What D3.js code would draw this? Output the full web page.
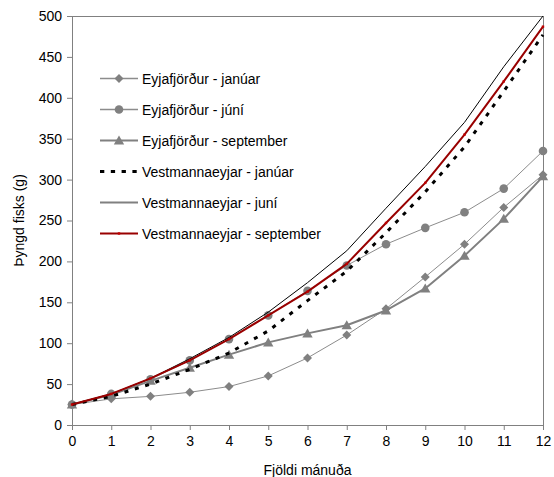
<!DOCTYPE html>
<html>
<head>
<meta charset="utf-8">
<script src="https://cdn.jsdelivr.net/npm/d3@7"></script>
<style>
  html, body { margin: 0; padding: 0; background: #fff; }
  svg text { font-family: "Liberation Sans", Arial, sans-serif; fill: #000; }
</style>
</head>
<body>
<svg id="chart" width="554" height="477"></svg>
<script>
// Fish weight (g) by month, per location and start month
const months = [0, 1, 2, 3, 4, 5, 6, 7, 8, 9, 10, 11, 12];
const eyjaJan = [25, 32, 35, 40, 47, 60, 82, 110, 142, 181, 221, 266, 306];
const eyjaJun = [25, 38, 56, 79, 105, 134, 164, 195, 221, 241, 260, 289, 335];
const eyjaSep = [25, 37, 54, 70, 86, 101, 112, 122, 140, 167, 207, 252, 304];
const vestJan = [25, 35, 50, 68, 88, 115, 152, 188, 235, 285, 340, 408, 477];
const vestJun = [25, 38, 57, 81, 107, 138, 174, 213, 265, 316, 370, 438, 500];
const vestSep = [25, 38, 57, 79, 105, 134, 163, 197, 247, 296, 355, 420, 487];

const yTicks = [0, 50, 100, 150, 200, 250, 300, 350, 400, 450, 500];
const seriesNames = [
  "Eyjafjörður - janúar",
  "Eyjafjörður - júní",
  "Eyjafjörður - september",
  "Vestmannaeyjar - janúar",
  "Vestmannaeyjar - juní",
  "Vestmannaeyjar - september"
];

const series = [
  { name: seriesNames[0], values: eyjaJan, stroke: "#8c8c8c", width: 1, marker: "diamond" },
  { name: seriesNames[1], values: eyjaJun, stroke: "#8c8c8c", width: 1, marker: "circle" },
  { name: seriesNames[2], values: eyjaSep, stroke: "#808080", width: 2, marker: "triangle" },
  { name: seriesNames[3], values: vestJan, stroke: "#000", width: 3, dash: "4,6.8", marker: null },
  { name: seriesNames[4], values: vestJun, stroke: "#000", width: 1, marker: null, legendStroke: "#808080", legendWidth: 2 },
  { name: seriesNames[5], values: vestSep, stroke: "#990000", width: 2, marker: "dot" }
];

const svg = d3.select("#chart");
const plotLeft = 72, plotRight = 543, plotTop = 16, plotBottom = 425;

const x = d3.scaleLinear().domain([0, 12]).range([plotLeft, plotRight]);
const y = d3.scaleLinear().domain([0, 500]).range([plotBottom, plotTop]);

const axisColor = "#808080";

// plot frame
svg.append("rect")
  .attr("x", plotLeft + 0.5).attr("y", plotTop + 0.5)
  .attr("width", plotRight - plotLeft).attr("height", plotBottom - plotTop)
  .attr("fill", "none").attr("stroke", axisColor).attr("stroke-width", 1);

// axes
const xAxis = svg.append("g")
  .attr("transform", `translate(0,${plotBottom})`)
  .call(d3.axisBottom(x).tickValues(months).tickSize(5).tickPadding(6).tickFormat(d3.format("d")));
const yAxis = svg.append("g")
  .attr("transform", `translate(${plotLeft},0)`)
  .call(d3.axisLeft(y).tickValues(yTicks).tickSize(5).tickPadding(5).tickFormat(d3.format("d")));

[xAxis, yAxis].forEach(a => {
  a.select(".domain").attr("stroke", axisColor);
  a.selectAll(".tick line").attr("stroke", axisColor);
  a.selectAll(".tick text")
    .attr("font-family", "Liberation Sans, Arial, sans-serif")
    .attr("font-size", 14).attr("fill", "#000");
});

// axis titles
svg.append("text")
  .attr("x", (plotLeft + plotRight) / 2).attr("y", 470)
  .attr("text-anchor", "middle").attr("dominant-baseline", "central")
  .attr("font-size", 14).text("Fjöldi mánuða");

svg.append("text")
  .attr("transform", `translate(19,${(plotTop + plotBottom) / 2}) rotate(-90)`)
  .attr("text-anchor", "middle").attr("dominant-baseline", "central")
  .attr("font-size", 14).text("Þyngd fisks (g)");

const line = d3.line().x((d, i) => x(months[i])).y(d => y(d));

function drawMarker(g, type, cx, cy, fill) {
  if (type === "diamond") {
    g.append("path").attr("d", `M${cx},${cy - 4.5}L${cx + 4.5},${cy}L${cx},${cy + 4.5}L${cx - 4.5},${cy}Z`).attr("fill", fill);
  } else if (type === "circle") {
    g.append("circle").attr("cx", cx).attr("cy", cy).attr("r", 4.3).attr("fill", fill);
  } else if (type === "triangle") {
    g.append("path").attr("d", `M${cx},${cy - 5}L${cx + 5.2},${cy + 4}L${cx - 5.2},${cy + 4}Z`).attr("fill", fill);
  } else if (type === "dot") {
    g.append("rect").attr("x", cx - 1.2).attr("y", cy - 1.2).attr("width", 2.4).attr("height", 2.4).attr("fill", "#c00000");
  }
}

const markerFill = "#808080";

// series lines and markers
series.forEach(s => {
  const g = svg.append("g");
  g.append("path")
    .datum(s.values)
    .attr("d", line)
    .attr("fill", "none")
    .attr("stroke", s.stroke)
    .attr("stroke-width", s.width)
    .attr("stroke-dasharray", s.dash || null)
    .attr("stroke-linejoin", "round");
  if (s.marker) {
    s.values.forEach((v, i) => drawMarker(g, s.marker, x(months[i]), y(v), markerFill));
  }
});

// legend
const legend = svg.append("g");
const legendY0 = 78.5, legendStep = 31;
series.forEach((s, i) => {
  const ly = legendY0 + i * legendStep;
  const g = legend.append("g");
  g.append("line")
    .attr("x1", 100).attr("x2", 138).attr("y1", ly).attr("y2", ly)
    .attr("stroke", s.legendStroke || s.stroke)
    .attr("stroke-width", s.legendWidth || (s.dash ? 3 : Math.max(s.width, 1.5)))
    .attr("stroke-dasharray", s.dash ? "4.3,6.5" : null);
  if (s.marker) drawMarker(g, s.marker, 119, ly, markerFill);
  g.append("text")
    .attr("x", 142).attr("y", ly)
    .attr("dominant-baseline", "central")
    .attr("font-size", 14).text(s.name);
});
</script>
</body>
</html>
